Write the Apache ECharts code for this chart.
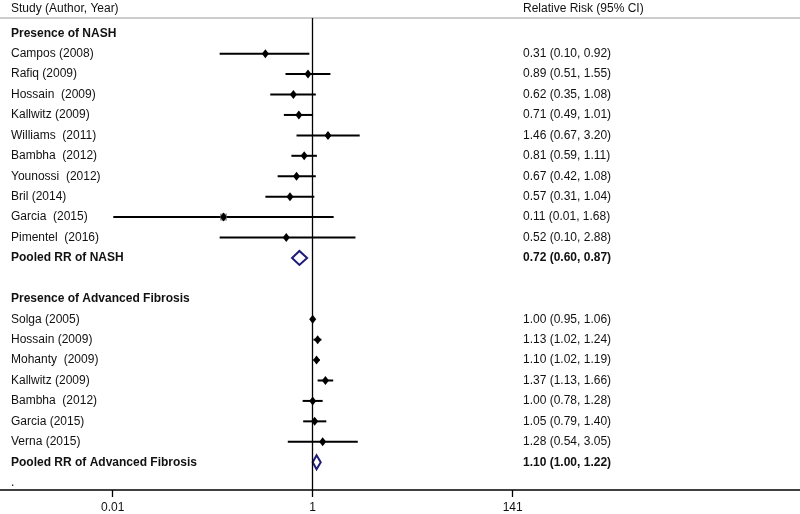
<!DOCTYPE html>
<html>
<head>
<meta charset="utf-8">
<script src="https://cdn.jsdelivr.net/npm/echarts@6/dist/echarts.min.js"></script>
<style>html,body{margin:0;padding:0;background:#fff}#chart{width:800px;height:514px}</style>
</head>
<body>
<div id="chart"></div>
<script>
// ---- data ----
const headerLeft = 'Study (Author, Year)';
const headerRight = 'Relative Risk (95% CI)';
const groupNames = ['Presence of NASH', 'Presence of Advanced Fibrosis'];

const nashStudies = ['Campos (2008)', 'Rafiq (2009)', 'Hossain  (2009)', 'Kallwitz (2009)', 'Williams  (2011)',
  'Bambha  (2012)', 'Younossi  (2012)', 'Bril (2014)', 'Garcia  (2015)', 'Pimentel  (2016)'];
const nashRR = [0.31, 0.89, 0.62, 0.71, 1.46, 0.81, 0.67, 0.57, 0.11, 0.52];
const nashLo = [0.10, 0.51, 0.35, 0.49, 0.67, 0.59, 0.42, 0.31, 0.0072, 0.10];
const nashHi = [0.92, 1.55, 1.08, 1.01, 3.20, 1.11, 1.08, 1.04, 1.68, 2.88];
const nashPooledLabel = 'Pooled RR of NASH';
const nashPooled = [0.72, 0.60, 0.87]; // est, lo, hi

const fibStudies = ['Solga (2005)', 'Hossain (2009)', 'Mohanty  (2009)', 'Kallwitz (2009)', 'Bambha  (2012)',
  'Garcia (2015)', 'Verna (2015)'];
const fibRR = [1.00, 1.13, 1.10, 1.37, 1.00, 1.05, 1.28];
const fibLo = [0.95, 1.02, 1.02, 1.13, 0.78, 0.79, 0.54];
const fibHi = [1.06, 1.24, 1.19, 1.66, 1.28, 1.40, 3.05];
const fibPooledLabel = 'Pooled RR of Advanced Fibrosis';
const fibPooled = [1.10, 1.00, 1.22];

const trailingLabel = '.';
const boxedStudies = ['Garcia  (2015)']; // studies with visible weight box

const tickValues = [1 / 141, 1, 141];
const tickLabels = ['0.01', '1', '141'];

// ---- build rows ----
const fmt = (e, l, h) => e.toFixed(2) + ' (' + l.toFixed(2) + ', ' + h.toFixed(2) + ')';
const LEFT_X = 11, RIGHT_X = 523;
const leftText = [], leftBold = [], rightText = [], rightBold = [];
const ciData = [], pointData = [], pooledData = [], boxData = [];
let row = 0;
function addGroup(name, studies, rr, lo, hi, pLabel, pooled) {
  leftBold.push([LEFT_X, row, name]); row++;
  studies.forEach((s, i) => {
    leftText.push([LEFT_X, row, s]);
    rightText.push([RIGHT_X, row, fmt(rr[i], lo[i], hi[i])]);
    ciData.push([lo[i], hi[i], row]);
    pointData.push([rr[i], row]);
    if (boxedStudies.indexOf(s) >= 0 && name === groupNames[0]) boxData.push([rr[i], row]);
    row++;
  });
  leftBold.push([LEFT_X, row, pLabel]);
  rightBold.push([RIGHT_X, row, fmt(pooled[0], pooled[1], pooled[2])]);
  pooledData.push([pooled[1], pooled[0], pooled[2], row]);
  row++;
}
addGroup(groupNames[0], nashStudies, nashRR, nashLo, nashHi, nashPooledLabel, nashPooled);
row++; // blank row
addGroup(groupNames[1], fibStudies, fibRR, fibLo, fibHi, fibPooledLabel, fibPooled);
leftText.push([LEFT_X, row, trailingLabel]);
const headerRow = -1.22;
leftText.push([LEFT_X, headerRow, headerLeft]);
rightText.push([RIGHT_X, headerRow, headerRight]);

// ---- layout constants (pixels) ----
const W = 800, gridTop = 18, axisY = 491.7, row0Y = 33.3, rowStep = 20.5;
const x1 = 312.7, pxPerDec = 200 / Math.log10(141);
const xMin = Math.pow(10, -x1 / pxPerDec), xMax = Math.pow(10, (W - x1) / pxPerDec);
const yMin = (gridTop - row0Y) / rowStep, yMax = (axisY - row0Y) / rowStep;

const FONT = '"Liberation Sans", Arial, Helvetica, sans-serif';
const TXT = '#111';
function textSeries(data, bold) {
  return {
    type: 'scatter', xAxisIndex: 1, yAxisIndex: 0, data: data, symbolSize: 0, clip: false, silent: true,
    itemStyle: { opacity: 1 },
    label: {
      show: true, position: 'inside', align: 'left', verticalAlign: 'middle',
      formatter: p => p.data[2], color: TXT, fontSize: 12, fontFamily: FONT, opacity: 1,
      fontWeight: bold ? 'bold' : 'normal'
    }
  };
}

const chart = echarts.init(document.getElementById('chart'), null, { renderer: 'canvas' });
chart.setOption({
  animation: false,
  backgroundColor: '#fff',
  grid: { left: 0, right: 0, top: gridTop, bottom: 514 - axisY, containLabel: false },
  xAxis: [{
    type: 'log', logBase: 10, min: xMin, max: xMax, position: 'bottom',
    axisLine: { show: true, onZero: false, lineStyle: { color: '#000', width: 1.5 } },
    axisTick: { show: true, customValues: tickValues, length: 7, lineStyle: { color: '#000', width: 1.3 } },
    axisLabel: {
      show: true, customValues: tickValues, margin: 12, color: TXT, fontSize: 12, fontFamily: FONT,
      formatter: function (v) {
        let best = 0;
        tickValues.forEach((t, i) => { if (Math.abs(Math.log(t) - Math.log(v)) < Math.abs(Math.log(tickValues[best]) - Math.log(v))) best = i; });
        return tickLabels[best];
      }
    },
    splitLine: { show: false }, minorTick: { show: false }
  }, {
    type: 'value', min: 0, max: W, position: 'top',
    axisLine: { show: true, onZero: false, lineStyle: { color: '#bdbdbd', width: 1.5 } },
    axisTick: { show: false }, axisLabel: { show: false }, splitLine: { show: false }
  }],
  yAxis: [{ type: 'value', inverse: true, min: yMin, max: yMax, show: false }],
  series: [
    {
      type: 'custom', xAxisIndex: 0, yAxisIndex: 0, data: ciData, z: 2, silent: true,
      encode: { x: [0, 1], y: 2 },
      renderItem: function (params, api) {
        const a = api.coord([api.value(0), api.value(2)]);
        const b = api.coord([api.value(1), api.value(2)]);
        return { type: 'line', shape: { x1: a[0], y1: a[1], x2: b[0], y2: b[1] }, style: { stroke: '#000', lineWidth: 2 } };
      },
      markLine: {
        silent: true, symbol: 'none', label: { show: false },
        lineStyle: { color: '#000', width: 1.3, type: 'solid' },
        data: [{ xAxis: 1 }]
      }
    },
    {
      type: 'scatter', xAxisIndex: 0, yAxisIndex: 0, data: boxData, symbol: 'rect', symbolSize: 7, z: 3,
      itemStyle: { color: '#9a9a9a', opacity: 1 }, silent: true
    },
    {
      type: 'scatter', xAxisIndex: 0, yAxisIndex: 0, data: pointData, symbol: 'diamond', symbolSize: [7, 9], z: 4,
      itemStyle: { color: '#000', opacity: 1 }, silent: true
    },
    {
      type: 'custom', xAxisIndex: 0, yAxisIndex: 0, data: pooledData, z: 4, silent: true,
      encode: { x: [0, 1, 2], y: 3 },
      renderItem: function (params, api) {
        const r = api.value(3);
        const l = api.coord([api.value(0), r]);
        const c = api.coord([api.value(1), r]);
        const h = api.coord([api.value(2), r]);
        const hh = 7;
        return {
          type: 'polygon',
          shape: { points: [[l[0], c[1]], [c[0], c[1] - hh], [h[0], c[1]], [c[0], c[1] + hh]] },
          style: { fill: 'none', stroke: '#1c1c78', lineWidth: 2 }
        };
      }
    },
    textSeries(leftText, false),
    textSeries(leftBold, true),
    textSeries(rightText, false),
    textSeries(rightBold, true)
  ]
});
</script>
</body>
</html>
